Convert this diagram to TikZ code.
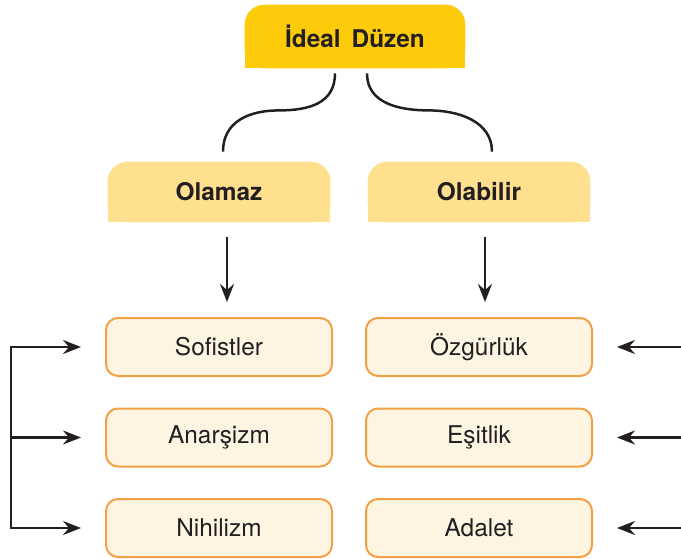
\documentclass[tikz,border=0pt]{standalone}
\usepackage{fontspec}
\setmainfont{TeX Gyre Heros}
\usetikzlibrary{arrows.meta,calc,backgrounds}
\definecolor{dore}{HTML}{FECB0A}
\definecolor{jaune}{HTML}{FFE08F}
\definecolor{creme}{HTML}{FDF5E2}
\definecolor{orangebord}{HTML}{F4A047}
\definecolor{texte}{HTML}{231F20}

\begin{document}
\begin{tikzpicture}[x=0.5pt,y=-0.5pt,
  titre/.style={minimum width=110pt,minimum height=31.5pt,inner sep=0pt,text=texte,font=\fontsize{12.2}{14}\selectfont\bfseries},
  soustitre/.style={minimum width=111pt,minimum height=30pt,inner sep=0pt,text=texte,font=\fontsize{12.2}{14}\selectfont\bfseries},
  choix/.style={draw=orangebord,fill=creme,line width=1pt,rounded corners=6pt,minimum width=113pt,minimum height=29pt,inner sep=0pt,text=texte,font=\fontsize{12.2}{14}\selectfont},
  pointe/.tip={Stealth[length=9pt,width=7pt,inset=3pt]},
  fleche/.style={draw=texte,line width=1.15pt,-pointe},
  accolade/.style={draw=texte,line width=1.25pt}]
  \useasboundingbox (0,0) rectangle (681,558);

  % Titres
  \node[titre] (ideal) at (355,36.5) {İdeal\hspace{0.45em}Düzen};
  \node[soustitre] (olamaz) at (219,192) {Olamaz};
  \node[soustitre] (olabilir) at (479,192) {Olabilir};
  \begin{scope}[on background layer]
    \fill[dore,rounded corners=10pt] (ideal.south west) rectangle (ideal.north east);
    \fill[dore] (ideal.south west) rectangle (ideal.east);
    \fill[jaune,rounded corners=10pt] (olamaz.south west) rectangle (olamaz.north east);
    \fill[jaune] (olamaz.south west) rectangle (olamaz.east);
    \fill[jaune,rounded corners=10pt] (olabilir.south west) rectangle (olabilir.north east);
    \fill[jaune] (olabilir.south west) rectangle (olabilir.east);
  \end{scope}

  % Cases
  \node[choix] (sofistler) at (219,347) {Sofistler};
  \node[choix] (anarsizm) at (219,437.5) {Anarşizm};
  \node[choix] (nihilizm) at (219,528) {Nihilizm};
  \node[choix] (ozgurluk) at (479,347) {Özgürlük};
  \node[choix] (esitlik) at (479,437.5) {Eşitlik};
  \node[choix] (adalet) at (479,528) {Adalet};

  % Accolades
  \draw[accolade] ([xshift=-10pt,yshift=-2.5pt]ideal.south) .. controls +(0,30) and +(30,0) .. ++(-56,37)
    .. controls +(-30,0) and +(0,-30) .. ([xshift=2pt,yshift=5pt]olamaz.north);
  \draw[accolade] ([xshift=6pt,yshift=-2.5pt]ideal.south) .. controls +(0,30) and +(-30,0) .. ++(62,37)
    .. controls +(30,0) and +(0,-30) .. ([xshift=6.5pt,yshift=5pt]olabilir.north);

  % Flèches
  \draw[fleche] ([xshift=4pt,yshift=-7.5pt]olamaz.south) -- ([xshift=4pt,yshift=7.5pt]sofistler.north);
  \draw[fleche] ([xshift=3pt,yshift=-7.5pt]olabilir.south) -- ([xshift=3pt,yshift=7.5pt]ozgurluk.north);

  \coordinate (gauche) at (11,0);
  \coordinate (droite) at (681,0);
  \draw[fleche,pointe-pointe]
    ([xshift=-12pt]sofistler.west) -- (gauche |- sofistler.west) -- (gauche |- nihilizm.west) -- ([xshift=-12pt]nihilizm.west);
  \draw[fleche] (gauche |- anarsizm.west) -- ([xshift=-12pt]anarsizm.west);
  \draw[fleche] (droite |- ozgurluk.east) -- ([xshift=12pt]ozgurluk.east);
  \draw[fleche] (droite |- esitlik.east) -- ([xshift=12pt]esitlik.east);
  \draw[fleche] (droite |- adalet.east) -- ([xshift=12pt]adalet.east);
\end{tikzpicture}
\end{document}
